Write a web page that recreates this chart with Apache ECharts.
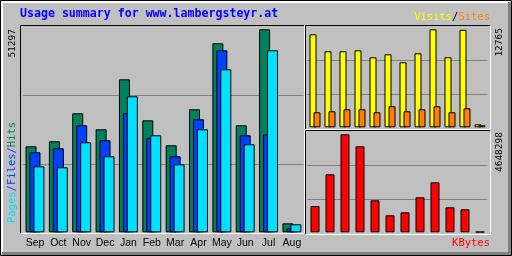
<!DOCTYPE html>
<html>
<head>
<meta charset="utf-8">
<script src="https://cdn.jsdelivr.net/npm/echarts@6/dist/echarts.min.js"></script>
<style>
  html, body { margin: 0; padding: 0; background: #c0c0c0; }
  #chart { width: 512px; height: 256px; }
</style>
</head>
<body>
<div id="chart"></div>
<script>
// usage summary (webalizer style)
const months = ['Sep', 'Oct', 'Nov', 'Dec', 'Jan', 'Feb', 'Mar', 'Apr', 'May', 'Jun', 'Jul', 'Aug'];
const hits   = [21730, 23000, 30070, 26030, 38660, 28300, 21990, 31080, 47760, 27040, 51297, 2270];
const files  = [20220, 21230, 27040, 23250, 30070, 23830, 19210, 28560, 45990, 24510, 24770, 1010];
const pages  = [16680, 16430, 22740, 19210, 34370, 24510, 17180, 26030, 41190, 22240, 45990, 2020];
const visits = [12110, 9900, 9900, 10030, 9120, 9510, 8470, 9640, 12765, 9120, 12700, 390];
const sites  = [1955, 2085, 2345, 2345, 1955, 2736, 2085, 2345, 2736, 1955, 2476, 260];
const kbytes = [1247460, 2751060, 4648298, 4079150, 1517820, 806340, 948640, 1660120, 2371600, 1185800, 1090940, 25000];

const chart = echarts.init(document.getElementById('chart'));

// pixel scales (value per px) taken from the peak of each panel
const mainMax = Math.max(...hits);
const visMax = Math.max(...visits);
const kbMax = Math.max(...kbytes);
const mainPx = mainMax / 203;
const visPx = visMax / 98;
const kbPx = kbMax / 98;

const monoFont = '"DejaVu Sans Mono", monospace';
const shadow = { textShadowColor: '#505050', textShadowOffsetX: 1, textShadowOffsetY: 1, textShadowBlur: 0 };

function valAxis(idx, pxScale, stepPx, n) {
  return {
    type: 'value', gridIndex: idx, min: 0,
    max: pxScale * stepPx * n, interval: pxScale * stepPx,
    axisLine: { show: false }, axisTick: { show: false }, axisLabel: { show: false },
    splitLine: { show: true, showMinLine: false, showMaxLine: false, lineStyle: { color: '#808080', width: 1 } }
  };
}
function catAxis(idx, showLabel) {
  return {
    type: 'category', gridIndex: idx, data: months,
    axisLine: { show: false }, axisTick: { show: false },
    axisLabel: { show: showLabel, color: '#000', fontFamily: '"Liberation Sans", sans-serif', fontSize: 10.5, margin: 5, interval: 0 }
  };
}
const barBorder = { borderColor: '#000', borderWidth: 1 };

// panel frame: black top/left, white bottom/right
function frame(x1, y1, x2, y2) {
  return [
    { type: 'polyline', z: 100, shape: { points: [[x1, y2], [x1, y1], [x2, y1]] }, style: { stroke: '#000', lineWidth: 1, fill: null } },
    { type: 'polyline', z: 100, shape: { points: [[x2, y1], [x2, y2], [x1, y2]] }, style: { stroke: '#fff', lineWidth: 1, fill: null } }
  ];
}

const option = {
  animation: false,
  backgroundColor: '#c0c0c0',
  grid: [
    { left: 23.3, width: 280.3, top: 26.8, height: 205.5 },
    { left: 307.5, width: 180, top: 26.8, height: 100.5 },
    { left: 307.5, width: 180, top: 131.8, height: 100.5 }
  ],
  xAxis: [catAxis(0, true), catAxis(1, false), catAxis(2, false)],
  yAxis: [valAxis(0, mainPx, 68.5, 3), valAxis(1, visPx, 33.5, 3), valAxis(2, kbPx, 33.5, 3)],
  series: [
    { name: 'Hits', type: 'bar', xAxisIndex: 0, yAxisIndex: 0, data: hits, barWidth: 11, barGap: '-64%',
      itemStyle: Object.assign({ color: '#00805c' }, barBorder) },
    { name: 'Files', type: 'bar', xAxisIndex: 0, yAxisIndex: 0, data: files, barWidth: 11, barGap: '-64%',
      itemStyle: Object.assign({ color: '#0040ff' }, barBorder) },
    { name: 'Pages', type: 'bar', xAxisIndex: 0, yAxisIndex: 0, data: pages, barWidth: 11, barGap: '-64%',
      itemStyle: Object.assign({ color: '#00e0ff' }, barBorder) },
    { name: 'Visits', type: 'bar', xAxisIndex: 1, yAxisIndex: 1, data: visits, barWidth: 7, barGap: '-43%',
      itemStyle: Object.assign({ color: '#ffff00' }, barBorder) },
    { name: 'Sites', type: 'bar', xAxisIndex: 1, yAxisIndex: 1, data: sites, barWidth: 7, barGap: '-43%',
      itemStyle: Object.assign({ color: '#ff8000' }, barBorder) },
    { name: 'KBytes', type: 'bar', xAxisIndex: 2, yAxisIndex: 2, data: kbytes, barWidth: 9,
      itemStyle: Object.assign({ color: '#ff0000' }, barBorder) }
  ],
  graphic: [
    // outer bevel
    { type: 'rect', z: 100, shape: { x: 0.5, y: 0.5, width: 511, height: 255 }, style: { stroke: '#000', fill: null, lineWidth: 1 } },
    { type: 'polyline', z: 100, shape: { points: [[2, 253], [2, 2], [509, 2]] }, style: { stroke: '#fff', lineWidth: 2, fill: null } },
    { type: 'polyline', z: 100, shape: { points: [[509.5, 2], [509.5, 253.5], [2, 253.5]] }, style: { stroke: '#808080', lineWidth: 3, fill: null } },
    ...frame(20.5, 25.5, 304.5, 233.5),
    ...frame(305.5, 25.5, 490.5, 129.5),
    ...frame(305.5, 130.5, 490.5, 234.5),
    // title
    { type: 'text', z: 101, x: 20, y: 14, style: Object.assign({
      text: 'Usage summary for www.lambergsteyr.at', fill: '#0000ff',
      font: 'bold 11.6px ' + monoFont, align: 'left', verticalAlign: 'middle' }, {}) },
    // legends
    { type: 'text', z: 101, x: 490, y: 17, style: Object.assign({
      text: '{v|Visits}{s|/}{t|Sites}', align: 'right', verticalAlign: 'middle', font: '10.5px ' + monoFont,
      rich: {
        v: Object.assign({ fill: '#ffff00', font: '10.5px ' + monoFont }, shadow),
        s: { fill: '#000', font: '10.5px ' + monoFont },
        t: Object.assign({ fill: '#ff8000', font: '10.5px ' + monoFont }, shadow)
      } }, {}) },
    { type: 'text', z: 101, x: 490, y: 243, style: Object.assign({
      text: 'KBytes', fill: '#ff0000', align: 'right', verticalAlign: 'middle', font: '10.5px ' + monoFont }, shadow) },
    { type: 'text', z: 101, x: 12, y: 223, rotation: Math.PI / 2, style: {
      text: '{p|Pages}{s|/}{f|Files}{s|/}{h|Hits}', align: 'left', verticalAlign: 'middle', font: '10.5px ' + monoFont,
      rich: {
        p: Object.assign({ fill: '#00e0ff', font: '10.5px ' + monoFont }, shadow),
        s: { fill: '#0040ff', font: '10.5px ' + monoFont },
        f: Object.assign({ fill: '#0040ff', font: '10.5px ' + monoFont }, shadow),
        h: Object.assign({ fill: '#00805c', font: '10.5px ' + monoFont }, shadow)
      } } },
    // peak values
    { type: 'text', z: 101, x: 13, y: 29, rotation: Math.PI / 2, style: {
      text: String(mainMax), fill: '#000', align: 'right', verticalAlign: 'middle', font: '9.5px ' + monoFont } },
    { type: 'text', z: 101, x: 500, y: 28, rotation: Math.PI / 2, style: {
      text: String(visMax), fill: '#000', align: 'right', verticalAlign: 'middle', font: '9.5px ' + monoFont } },
    { type: 'text', z: 101, x: 500, y: 132, rotation: Math.PI / 2, style: {
      text: String(kbMax), fill: '#000', align: 'right', verticalAlign: 'middle', font: '9.5px ' + monoFont } }
  ]
};

chart.setOption(option);
</script>
</body>
</html>
